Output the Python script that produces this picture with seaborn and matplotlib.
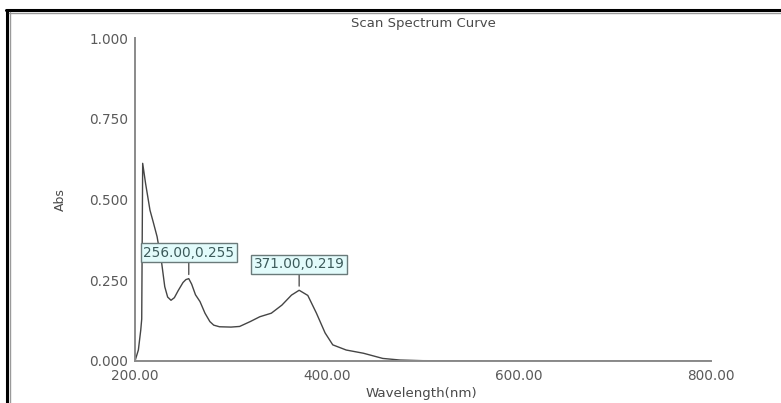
import matplotlib
matplotlib.use("Agg")
import matplotlib.pyplot as plt
from matplotlib.lines import Line2D
import seaborn as sns
import pandas as pd

wavelength = [200, 203.5, 206, 207, 208, 211, 215.6, 219, 223, 227.8, 231, 234,
              237.5, 241, 245, 250, 253, 256, 259, 263, 267.7, 272.9, 278, 282,
              288, 300, 309, 320, 330, 342, 353, 363, 371, 380, 389, 398, 406,
              420, 438, 458, 476, 500, 600, 700, 800]
absorbance = [0.0, 0.034, 0.096, 0.13, 0.612, 0.55, 0.467, 0.43, 0.385, 0.303,
              0.23, 0.198, 0.188, 0.196, 0.218, 0.243, 0.252, 0.255, 0.238, 0.205,
              0.184, 0.148, 0.122, 0.111, 0.106, 0.105, 0.107, 0.122, 0.137,
              0.148, 0.173, 0.204, 0.219, 0.203, 0.148, 0.087, 0.05, 0.034,
              0.024, 0.008, 0.003, 0.001, 0.0, 0.0, 0.0]
peak_x = [256.00, 371.00]
peak_y = [0.255, 0.219]
x_ticks = [200, 400, 600, 800]
y_ticks = [0.0, 0.25, 0.5, 0.75, 1.0]

df = pd.DataFrame({"Wavelength(nm)": wavelength, "Abs": absorbance})

sns.set_theme(style="white")
plt.rcParams['font.family'] = ['DejaVu Sans']

fig = plt.figure(figsize=(7.81, 4.03), dpi=100)
ax = fig.add_axes([135/781, 1-361/403, (711-135)/781, (361-38)/403])

sns.lineplot(data=df, x="Wavelength(nm)", y="Abs", ax=ax, color="#454545",
             linewidth=1.0, sort=False)

ax.set_xlim(200, 800)
ax.set_ylim(0, 1.0)
ax.set_xticks(x_ticks)
ax.set_xticklabels([f"{v:.2f}" for v in x_ticks])
ax.set_yticks(y_ticks)
ax.set_yticklabels([f"{v:.3f}" for v in y_ticks])

axis_col = "#8a8a8a"
for s in ["top", "right"]:
    ax.spines[s].set_visible(False)
for s in ["left", "bottom"]:
    ax.spines[s].set_color(axis_col)
    ax.spines[s].set_linewidth(1.4)
ax.tick_params(axis="both", direction="in", length=4, width=1.2, color="#555555",
               labelsize=9.8, labelcolor="#5a5a5a")
ax.tick_params(axis="x", pad=6)
ax.tick_params(axis="y", pad=5)

ax.set_xlabel("Wavelength(nm)", fontsize=9.6, color="#4a4a4a")
ax.set_ylabel("Abs", fontsize=9.0, color="#4a4a4a")
ax.xaxis.set_label_coords(0.497, -0.081)
ax.yaxis.set_label_coords(-0.13, 0.5)
ax.yaxis.label.set_va("center")

ax.text(0.5, 1.046, "Scan Spectrum Curve", transform=ax.transAxes,
        ha="center", va="center", fontsize=9.5, color="#4a4a4a")

for px, py in zip(peak_x, peak_y):
    ax.annotate(f"{px:.2f},{py:.3f}", xy=(px, py), xytext=(0, 26),
                textcoords="offset pixels", ha="center", va="center",
                fontsize=9.8, color="#3c5a5a",
                bbox=dict(boxstyle="square,pad=0.18", fc="#e2fbfb", ec="#6a7a7a", lw=1.0),
                arrowprops=dict(arrowstyle="-", color="#555555", lw=1.0,
                                shrinkA=0, shrinkB=3, relpos=(0.5, 0)))

# window frame
fig.add_artist(Line2D([6/781, 1], [1-10/403, 1-10/403], transform=fig.transFigure,
                      color="black", lw=2.2))
fig.add_artist(Line2D([7/781, 7/781], [0, 1-10/403], transform=fig.transFigure,
                      color="black", lw=2.2))
fig.add_artist(Line2D([9/781, 1], [1-12.5/403, 1-12.5/403], transform=fig.transFigure,
                      color="#9a9a9a", lw=1.0))
fig.add_artist(Line2D([9.5/781, 9.5/781], [0, 1-12/403], transform=fig.transFigure,
                      color="#9a9a9a", lw=1.0))

fig.savefig("out.png", dpi=100)
